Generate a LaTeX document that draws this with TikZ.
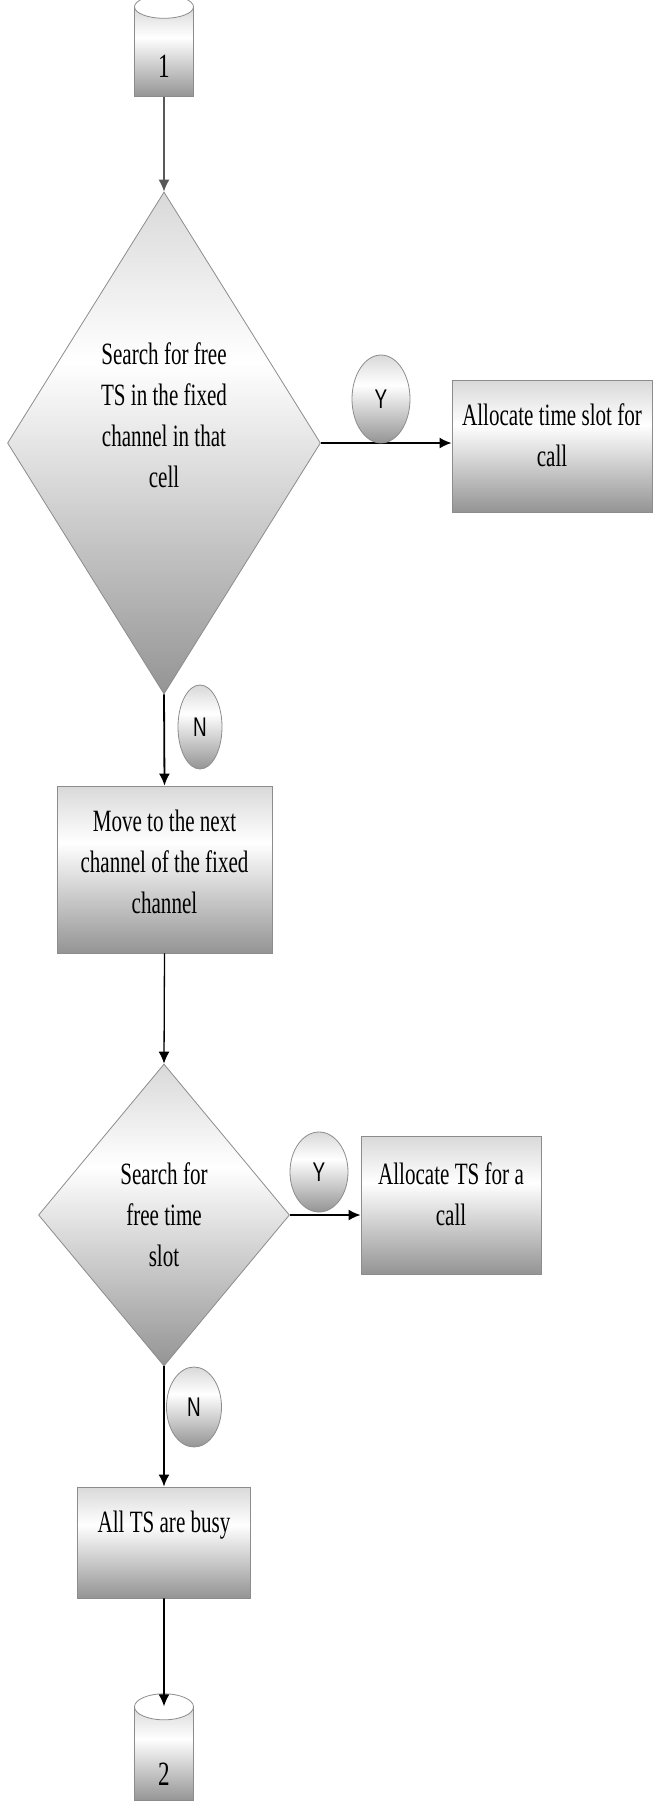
\documentclass[tikz,border=0pt]{standalone}
\usepackage{fontspec}
\usetikzlibrary{shapes.geometric,calc,arrows.meta}
\newfontfamily\flowfont[FakeStretch=0.68]{Liberation Serif}
\newfontfamily\ynfont[FakeStretch=0.7]{Liberation Sans}
\definecolor{boxtop}{gray}{0.85}
\definecolor{boxbottom}{gray}{0.58}
\definecolor{boxline}{gray}{0.55}
\pgfdeclareverticalshading{flowshade}{100bp}{color(0bp)=(boxbottom); color(25bp)=(boxbottom); color(58bp)=(white); color(75bp)=(boxtop); color(100bp)=(boxtop)}
\tikzset{
  flowshape/.style={draw=boxline, line width=0.8pt, shading=flowshade},
  procbox/.style={flowshape, rectangle, inner sep=0pt},
  decision/.style={flowshape, diamond, inner sep=0pt},
  ynmark/.style={flowshape, ellipse, inner sep=0pt, font=\ynfont\fontsize{27}{30}\selectfont},
  storedisk/.style={flowshape, cylinder, shape border rotate=90, aspect=0.78, inner sep=0pt, minimum width=59pt},
  flowtext/.style={font=\flowfont\fontsize{31}{41}\selectfont, align=center},
  arrowline/.style={-{Latex[length=12pt,width=11pt]}, line width=1.8pt},
}

\begin{document}
\begin{tikzpicture}[x=1pt,y=-1pt]
    \useasboundingbox (0,0) rectangle (654,1802);

    % main column
    \node[storedisk, minimum height=90pt, label={[flowtext,font=\flowfont\fontsize{34}{40}\selectfont,yshift=-14pt]center:1}] (one) at (164,52) {};
    \node[decision, minimum width=313pt, minimum height=502pt,
          label={[flowtext,yshift=28pt]center:{Search for free\\TS in the fixed\\channel in that\\cell}}] (dec1) at (164,443) {};
    \node[procbox, minimum width=215pt, minimum height=167pt,
          label={[flowtext,yshift=8pt]center:{Move to the next\\channel of the fixed\\channel}}] (move) at (164.5,869.5) {};
    \node[decision, minimum width=251pt, minimum height=302pt,
          label={[flowtext]center:{Search for\\free time\\slot}}] (dec2) at (164,1215) {};
    \node[procbox, minimum width=173pt, minimum height=111pt,
          label={[flowtext,yshift=17pt]center:All TS are busy}] (busy) at (164,1542.5) {};
    \node[storedisk, minimum height=94pt, label={[flowtext,font=\flowfont\fontsize{34}{40}\selectfont,yshift=-20pt]center:2}] (two) at (164,1754) {};

    % right hand side
    \node[procbox, minimum width=200pt, minimum height=132pt,
          label={[flowtext,yshift=11pt]center:{Allocate time slot for\\call}}] (alloc1) at (552,446) {};
    \node[procbox, minimum width=180pt, minimum height=138pt,
          label={[flowtext,yshift=11pt]center:{Allocate TS for a\\call}}] (alloc2) at (451,1205) {};

    % cylinder lids
    \draw[draw=boxline, line width=0.8pt, fill=white] ($(one.before top)!0.5!(one.after top)$) ellipse [x radius=29.5, y radius=11.5];
    \draw[draw=boxline, line width=0.8pt, fill=white] ($(two.before top)!0.5!(two.after top)$) ellipse [x radius=29.5, y radius=13];

    % arrows
    \draw[arrowline, draw=black!65, fill=black!65, line width=1.3pt] (one) -- (dec1);
    \draw[arrowline] (dec1.east) -- (alloc1.west |- dec1.east);
    \draw[arrowline] (dec1.south) -- (move.north);
    \draw[arrowline, line width=1.3pt] (move.south) -- (dec2.north);
    \draw[arrowline] (dec2.east) -- (alloc2.west |- dec2.east);
    \draw[arrowline] (dec2.south) -- (busy.north);
    \draw[arrowline] (busy.south) -- (two.north);

    % Y / N marks
    \node[ynmark, minimum width=58pt, minimum height=88pt] (yes1) at (381,399) {Y};
    \node[ynmark, minimum width=44pt, minimum height=84pt] (no1) at (200,727) {N};
    \node[ynmark, minimum width=58pt, minimum height=80pt] (yes2) at (319,1172) {Y};
    \node[ynmark, minimum width=55pt, minimum height=80pt] (no2) at (194,1407) {N};

\end{tikzpicture}
\end{document}
